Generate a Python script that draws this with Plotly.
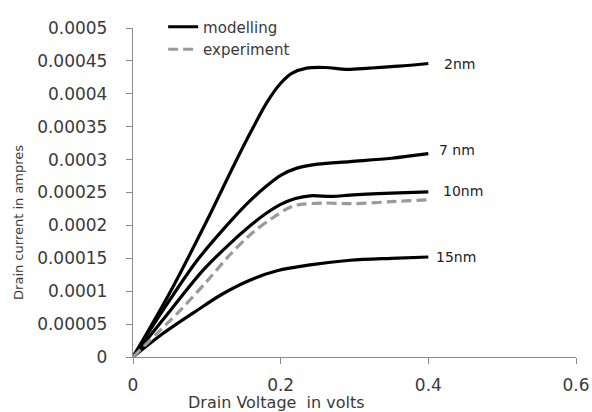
import plotly.graph_objects as go

# Drain voltage (V) and drain current (A)
v_2nm = [0, 0.05, 0.1, 0.136, 0.16, 0.182, 0.2, 0.215, 0.235, 0.26, 0.29, 0.32, 0.36, 0.4]
i_2nm = [0, 0.000098, 0.000207, 0.00029, 0.000343, 0.000388, 0.000416, 0.000431, 0.000439,
         0.00044, 0.000437, 0.000439, 0.000442, 0.000446]

v_7nm = [0, 0.04, 0.087, 0.131, 0.159, 0.18, 0.2, 0.222, 0.25, 0.294, 0.35, 0.4]
i_7nm = [0, 0.00007, 0.000147, 0.000205, 0.000238, 0.000259, 0.000276, 0.000287, 0.000293,
         0.000297, 0.000302, 0.000309]

v_10nm = [0, 0.05, 0.095, 0.131, 0.155, 0.18, 0.2, 0.22, 0.24, 0.27, 0.294, 0.35, 0.4]
i_10nm = [0, 0.00007, 0.000132, 0.000172, 0.000196, 0.000218, 0.000232, 0.000241, 0.000245,
          0.000244, 0.000246, 0.000249, 0.000251]

v_15nm = [0, 0.041, 0.087, 0.12, 0.159, 0.195, 0.24, 0.294, 0.35, 0.4]
i_15nm = [0, 0.000036, 0.000071, 0.000095, 0.000117, 0.000131, 0.00014, 0.000147, 0.00015, 0.000152]

v_exp = [0, 0.064, 0.1, 0.131, 0.163, 0.19, 0.21, 0.222, 0.26, 0.294, 0.35, 0.4]
i_exp = [0, 0.000071, 0.000115, 0.000155, 0.00019, 0.000212, 0.000226, 0.000231, 0.000234,
         0.000233, 0.000236, 0.000239]

curve_labels = ["2nm", "7 nm", "10nm", "15nm"]
y_ticks = [0, 0.00005, 0.0001, 0.00015, 0.0002, 0.00025, 0.0003, 0.00035, 0.0004, 0.00045, 0.0005]
y_ticktext = ["0", "0.00005", "0.0001", "0.00015", "0.0002", "0.00025", "0.0003", "0.00035",
              "0.0004", "0.00045", "0.0005"]
x_ticks = [0, 0.2, 0.4, 0.6]
x_ticktext = ["0", "0.2", "0.4", "0.6"]

FONT = "DejaVu Sans"
TXT = "#3a3a3a"
fig = go.Figure()

model = [(v_2nm, i_2nm), (v_7nm, i_7nm), (v_10nm, i_10nm), (v_15nm, i_15nm)]
for k, (vx, iy) in enumerate(model):
    fig.add_trace(go.Scatter(
        x=vx, y=iy, mode="lines", name="modelling", showlegend=(k == 0),
        line=dict(color="black", width=3.2, shape="spline", smoothing=0.9),
    ))

fig.add_trace(go.Scatter(
    x=v_exp, y=i_exp, mode="lines", name="experiment",
    line=dict(color="#9a9a9a", width=3.2, dash="10px,5px", shape="spline", smoothing=0.9),
))

# end labels
label_shift = [(14, 0), (9, 4), (13, 1), (6, 0)]
for (vx, iy), lab, (dx, dy) in zip(model, curve_labels, label_shift):
    fig.add_annotation(x=vx[-1], y=iy[-1], text=lab, showarrow=False,
                       xanchor="left", yanchor="middle", xshift=dx, yshift=dy,
                       font=dict(family=FONT, size=14, color="#222"))

# axis titles as annotations (positioned like the reference)
fig.add_annotation(x=0.195, y=0, xref="x", yref="paper", yshift=-45, text="Drain Voltage  in volts",
                   showarrow=False, xanchor="center", yanchor="middle",
                   font=dict(family=FONT, size=16, color=TXT))
fig.add_annotation(x=-0.26, y=0.41, xref="paper", yref="paper", text="Drain current in ampres",
                   textangle=-90, showarrow=False, xanchor="center", yanchor="middle",
                   font=dict(family=FONT, size=13, color=TXT))

fig.update_layout(
    width=592, height=412,
    margin=dict(l=133, r=16, t=27, b=55),
    paper_bgcolor="white", plot_bgcolor="white",
    font=dict(family=FONT, size=14, color=TXT),
    legend=dict(x=0.068, y=1.05, xanchor="left", yanchor="top", bgcolor="rgba(0,0,0,0)",
                font=dict(family=FONT, size=15, color=TXT), tracegroupgap=0,
                itemwidth=30),
    showlegend=True,
)
fig.update_xaxes(range=[0, 0.6], tickvals=x_ticks, ticktext=x_ticktext, automargin=False,
                 showgrid=False, zeroline=False, showline=True, linecolor="#8c8c8c",
                 linewidth=1.3, ticks="outside", ticklen=6, tickcolor="#8c8c8c",
                 ticklabelstandoff=6,
                 tickfont=dict(family=FONT, size=17, color=TXT))
fig.update_yaxes(range=[0, 0.0005], tickvals=y_ticks, ticktext=y_ticktext, automargin=False,
                 showgrid=False, zeroline=False, showline=True, linecolor="#8c8c8c",
                 linewidth=1.3, ticks="outside", ticklen=6, tickcolor="#8c8c8c",
                 ticklabelstandoff=15,
                 tickfont=dict(family=FONT, size=17, color=TXT))

fig.write_html("out.html", config={"responsive": False, "displayModeBar": False},
               post_script="document.body.style.margin='0';document.body.style.overflow='hidden';")
